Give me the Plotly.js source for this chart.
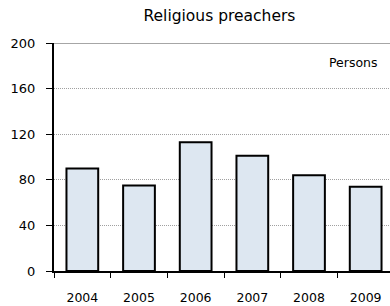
<!DOCTYPE html>
<html><head><meta charset="utf-8">
<script src="https://cdn.plot.ly/plotly-3.0.1.min.js"></script>
<style>html,body{margin:0;padding:0;overflow:hidden;background:#fff}#c{width:394px;height:306px}</style>
</head><body><div id="c"></div>
<script>
const years = ["2004","2005","2006","2007","2008","2009"];
const persons = [90, 75, 113, 101, 84, 74];
const yTicks = [0, 40, 80, 120, 160, 200];

const font = "DejaVu Sans, Verdana, sans-serif";
Plotly.newPlot("c", [{
  type: "bar", x: years, y: persons, width: 0.56,
  marker: {color: "#dde7f1", line: {color: "#000", width: 2}},
  hoverinfo: "skip"
}], {
  width: 394, height: 306,
  margin: {l: 54, r: 0, t: 43, b: 35},
  paper_bgcolor: "#fff", plot_bgcolor: "#fff",
  showlegend: false,
  title: {text: "Religious preachers", font: {family: font, size: 15.5, color: "#000"}, x: 0.557, xanchor: "center", y: 0.948, yanchor: "middle"},
  xaxis: {
    type: "category", showgrid: false, showline: true, linecolor: "#000", linewidth: 1.5,
    ticks: "outside", tickson: "boundaries", ticklen: 5, tickcolor: "#000", tickwidth: 1,
    ticklabelstandoff: 14, tickfont: {family: font, size: 12.5, color: "#000"}, zeroline: false
  },
  yaxis: {
    range: [0, 200], tickvals: yTicks, showline: true, linecolor: "#000", linewidth: 2,
    ticks: "outside", ticklen: 6, tickcolor: "#000", tickwidth: 1,
    ticklabelstandoff: 8, tickfont: {family: font, size: 13, color: "#000"},
    showgrid: true, gridcolor: "#a0a0a0", griddash: "1px,1px", gridwidth: 1, zeroline: false
  },
  shapes: [{type: "line", xref: "paper", yref: "y", x0: 0, x1: 1, y0: 200, y1: 200, line: {color: "#888", width: 1.5}}],
  annotations: [{text: "Persons", xref: "paper", yref: "y", x: 0.96, y: 183, xanchor: "right", yanchor: "middle", showarrow: false, font: {family: font, size: 12.5, color: "#000"}}]
}, {displayModeBar: false, staticPlot: true});
</script></body></html>
